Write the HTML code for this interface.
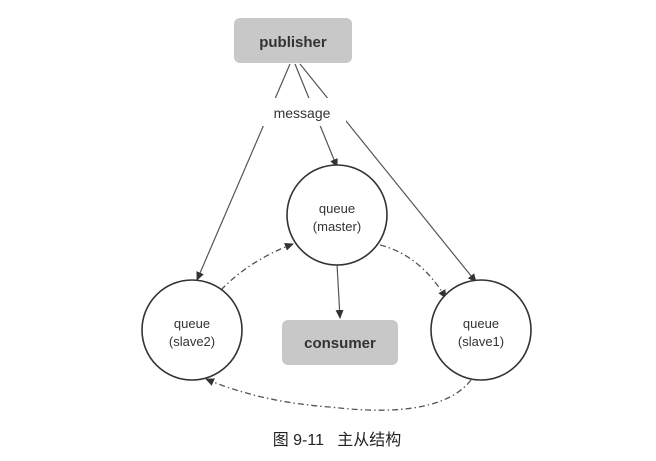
<!DOCTYPE html>
<html><head><meta charset="utf-8"><style>
html,body{margin:0;padding:0;background:#fff;}
</style></head><body>
<svg width="656" height="456" viewBox="0 0 656 456" xmlns="http://www.w3.org/2000/svg" font-family="Liberation Sans, sans-serif">
<defs>
<marker id="a" markerWidth="10" markerHeight="10" refX="8" refY="4" orient="auto" markerUnits="userSpaceOnUse">
<path d="M0,0 L9,4 L0,8 z" fill="#333"/>
</marker>
</defs>
<rect x="234" y="18" width="118" height="45" rx="6" fill="#c8c8c8"/>
<text x="293" y="47" font-size="15" font-weight="bold" text-anchor="middle" fill="#333">publisher</text>
<g stroke="#555" stroke-width="1.2" fill="none">
<line x1="290" y1="64" x2="197" y2="280" marker-end="url(#a)"/>
<line x1="295" y1="64" x2="337" y2="167" marker-end="url(#a)"/>
<line x1="300" y1="64" x2="476" y2="282" marker-end="url(#a)"/>
<line x1="337" y1="264" x2="340" y2="318" marker-end="url(#a)"/>
</g>
<rect x="262" y="98" width="84" height="28" fill="#fff"/>
<text x="302" y="118" font-size="14" text-anchor="middle" fill="#333">message</text>
<g stroke="#555" stroke-width="1.3" fill="none" stroke-dasharray="6,3,1.5,3">
<path d="M221,290 Q250,260 293,244" marker-end="url(#a)"/>
<path d="M380,245 Q420,255 446,298" marker-end="url(#a)"/>
<path d="M471,380 Q440,420 330,407 Q260,402 206,379" marker-end="url(#a)"/>
</g>
<g stroke="#333" stroke-width="1.6" fill="#fff">
<circle cx="337" cy="215" r="50"/>
<circle cx="192" cy="330" r="50"/>
<circle cx="481" cy="330" r="50"/>
</g>
<g font-size="13" text-anchor="middle" fill="#333">
<text x="337" y="213">queue</text><text x="337" y="231">(master)</text>
<text x="192" y="328">queue</text><text x="192" y="346">(slave2)</text>
<text x="481" y="328">queue</text><text x="481" y="346">(slave1)</text>
</g>
<rect x="282" y="320" width="116" height="45" rx="6" fill="#c8c8c8"/>
<text x="340" y="348" font-size="15" font-weight="bold" text-anchor="middle" fill="#333">consumer</text>
<text x="337" y="445" font-size="16" text-anchor="middle" fill="#222" font-family="Liberation Sans, Noto Sans CJK SC, sans-serif">图 9-11 &#160; 主从结构</text>
</svg>
</body></html>
